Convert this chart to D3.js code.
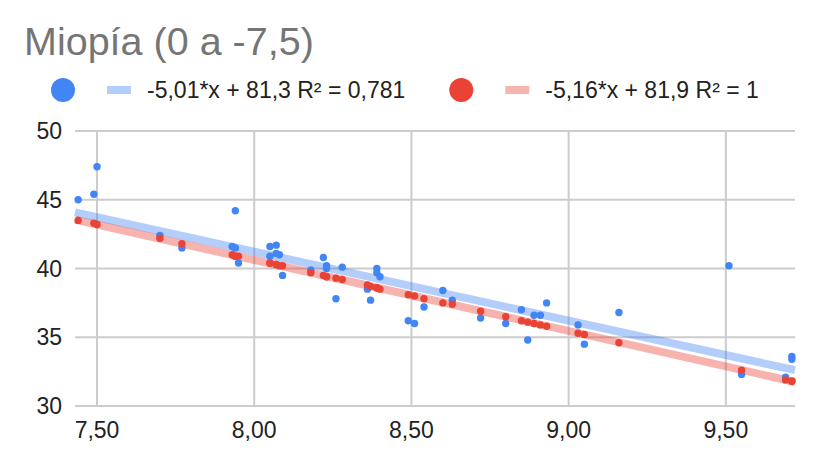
<!doctype html>
<html>
<head>
<meta charset="utf-8">
<style>
body { margin: 0; background: #fff; }
svg { display: block; font-family: "Liberation Sans", Arial, sans-serif; }
.grid line { stroke: #cccccc; stroke-width: 2; }
.tick-label { fill: #222; font-size: 23px; }
.title { fill: #757575; font-size: 39.5px; }
.legend-text { fill: #222; font-size: 23px; }
</style>
</head>
<body>
<div id="chart"></div>
<script src="https://cdn.jsdelivr.net/npm/d3@7"></script>
<script>
// shared x values for both series (red missing where not visible)
var xValues = [7.44, 7.49, 7.50, 7.70, 7.77, 7.93, 7.94, 7.94, 7.95,
    8.05, 8.05, 8.07, 8.07, 8.08, 8.09, 8.18, 8.22, 8.23, 8.23, 8.26, 8.28,
    8.36, 8.37, 8.39, 8.39, 8.40, 8.49, 8.51, 8.54, 8.60, 8.63, 8.72,
    8.80, 8.85, 8.87, 8.89, 8.91, 8.93, 9.03, 9.05, 9.16, 9.51, 9.55,
    9.69, 9.71, 9.71];
var blueValues = [45.0, 45.4, 47.4, 42.4, 41.5, 41.6, 41.5, 44.2, 40.4,
    41.6, 40.9, 41.7, 41.1, 41.0, 39.5, 39.9, 40.8, 40.2, 40.0, 37.8, 40.1,
    38.5, 37.7, 40.0, 39.7, 39.4, 36.2, 36.0, 37.2, 38.4, 37.7, 36.4,
    36.0, 37.0, 34.8, 36.6, 36.6, 37.5, 35.9, 34.5, 36.8, 40.2, 32.3,
    32.1, 33.6, 33.4];
var redValues = [43.5, 43.3, 43.2, 42.2, 41.8, 41.0, 40.9, 40.9, 40.9,
    40.4, 40.4, 40.3, 40.3, 40.2, 40.2, 39.7, 39.5, 39.4, 39.4, 39.3, 39.2,
    38.8, 38.7, 38.6, 38.6, 38.5, 38.1, 38.0, 37.8, 37.5, 37.4, 36.9,
    36.5, 36.2, 36.1, 36.0, 35.9, 35.8, 35.3, 35.2, 34.6, null, 32.6,
    31.9, 31.8, 31.8];

var seriesNames = ['-5,01*x + 81,3 R² = 0,781', '-5,16*x + 81,9 R² = 1'];
var trendSlopes = [-5.01, -5.16];
var trendIntercepts = [81.3, 81.9];
var xTicks = [7.5, 8.0, 8.5, 9.0, 9.5];
var yTicks = [30, 35, 40, 45, 50];

var dotColors = ['#4285f4', '#ea4335'];
var trendColors = ['#b3cefb', '#f7b4ae'];

var width = 817, height = 465;
var svg = d3.select('#chart').append('svg')
    .attr('width', width)
    .attr('height', height);

var x = d3.scaleLinear().domain([7.43, 9.72]).range([75, 795]);
var y = d3.scaleLinear().domain([30, 50]).range([406, 131]);
var fmt = function (v) { return d3.format('.2f')(v).replace('.', ','); };

// title
svg.append('text')
    .attr('class', 'title')
    .attr('x', 24)
    .attr('y', 55)
    .text('Miopía (0 a -7,5)');

// gridlines
var grid = svg.append('g').attr('class', 'grid');
grid.selectAll('line.h').data(yTicks).enter().append('line')
    .attr('x1', x.range()[0]).attr('x2', x.range()[1])
    .attr('y1', function (d) { return y(d); })
    .attr('y2', function (d) { return y(d); });
grid.selectAll('line.v').data(xTicks).enter().append('line')
    .attr('x1', function (d) { return x(d); })
    .attr('x2', function (d) { return x(d); })
    .attr('y1', y(50)).attr('y2', y(30));

// tick labels
svg.selectAll('text.ylab').data(yTicks).enter().append('text')
    .attr('class', 'tick-label')
    .attr('x', 62)
    .attr('y', function (d) { return y(d); })
    .attr('dy', '0.35em')
    .attr('text-anchor', 'end')
    .text(function (d) { return d; });
svg.selectAll('text.xlab').data(xTicks).enter().append('text')
    .attr('class', 'tick-label')
    .attr('x', function (d) { return x(d); })
    .attr('y', 438)
    .attr('text-anchor', 'middle')
    .text(fmt);

// trendlines
var xd = x.domain();
trendSlopes.forEach(function (m, i) {
    var b = trendIntercepts[i];
    svg.append('line')
        .attr('x1', x(xd[0])).attr('y1', y(m * xd[0] + b))
        .attr('x2', x(xd[1])).attr('y2', y(m * xd[1] + b))
        .attr('stroke', dotColors[i])
        .attr('stroke-opacity', 0.4)
        .attr('stroke-width', 8);
});

// points
[blueValues, redValues].forEach(function (vals, i) {
    var pts = xValues.map(function (xv, j) { return {x: xv, y: vals[j]}; })
        .filter(function (d) { return d.y != null; });
    svg.append('g').selectAll('circle').data(pts).enter().append('circle')
        .attr('cx', function (d) { return x(d.x); })
        .attr('cy', function (d) { return y(d.y); })
        .attr('r', 3.7)
        .attr('fill', dotColors[i]);
});

// legend
var lx = 63;
seriesNames.forEach(function (name, i) {
    var g = svg.append('g');
    g.append('circle').attr('cx', lx).attr('cy', 90).attr('r', 12).attr('fill', dotColors[i]);
    g.append('line')
        .attr('x1', lx + 44).attr('x2', lx + 68)
        .attr('y1', 90).attr('y2', 90)
        .attr('stroke', trendColors[i]).attr('stroke-width', 8);
    var t = g.append('text')
        .attr('class', 'legend-text')
        .attr('x', lx + 84).attr('y', 98)
        .text(name);
    lx = lx + 84 + t.node().getComputedTextLength() + 56;
});
</script>
</body>
</html>
